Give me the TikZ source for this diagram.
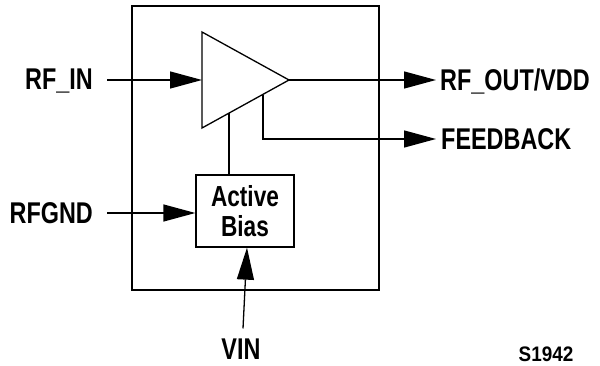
\documentclass[tikz,border=0pt]{standalone}
\usepackage{fontspec}
\setmainfont[FakeStretch=0.78]{Liberation Sans}
\newfontfamily\codefont[FakeStretch=0.9]{Liberation Sans}
\usepackage{tikz}
\usetikzlibrary{arrows.meta,positioning,calc}

\begin{document}
\begin{tikzpicture}[x=1pt,y=-1pt,
        wire/.style={line width=1.3pt},
        sig/.style={wire,-{Triangle[length=32pt,width=17pt]}},
        lbl/.style={font=\fontsize{30}{30}\selectfont\bfseries,inner sep=0pt}]
    \useasboundingbox (0,0) rectangle (600,366);

    % Package outline:
    \draw [line width=2.5pt] (132,6) rectangle (379,290);

    % Amplifier:
    % Drawn as a plain triangle, with named points for the connectors
    \coordinate (ampin)  at (202,80);
    \coordinate (ampout) at (289,80);
    \coordinate (ampbot) at (229,113);
    \coordinate (ampfb)  at (263,95);
    \draw [wire,line join=miter] (202,32) -- (ampout) -- (202,128) -- cycle;

    % Bias block:
    \node [draw,wire,lbl,font=\fontsize{29}{30}\selectfont\bfseries,align=center,
           minimum width=98pt,minimum height=72pt] (bias) at (245,211) {Active\\Bias};

    % Pin labels:
    \node [lbl,anchor=east] (rfin)  at (93,81)   {RF\_IN};
    \node [lbl,anchor=east] (rfgnd) at (93,213)  {RFGND};
    \node [lbl,anchor=west] (rfout) at (440,81)  {RF\_OUT/VDD};
    \node [lbl,anchor=west] (fb)    at (441,139) {FEEDBACK};
    \node [lbl] (vin) at (241,349) {VIN};
    \node [font=\fontsize{21}{21}\selectfont\codefont\bfseries,inner sep=0pt] (code) at (546,354) {S1942};

    % Connectors:
    \draw [sig] ([xshift=14pt]rfin.east |- ampin) -- (ampin);
    \draw [sig] ([xshift=14pt]rfgnd.east) -- (bias.west |- rfgnd.east);
    \draw [sig] (ampout) -- ([xshift=-4pt]rfout.west |- ampout);
    \draw [sig] (ampfb) |- ([xshift=-5pt]fb.west);
    \draw [wire] (ampbot) -- (ampbot |- bias.north);
    \draw [sig] ([xshift=2pt,yshift=10pt]vin.north) -- ([xshift=2pt]bias.south);
\end{tikzpicture}
\end{document}
